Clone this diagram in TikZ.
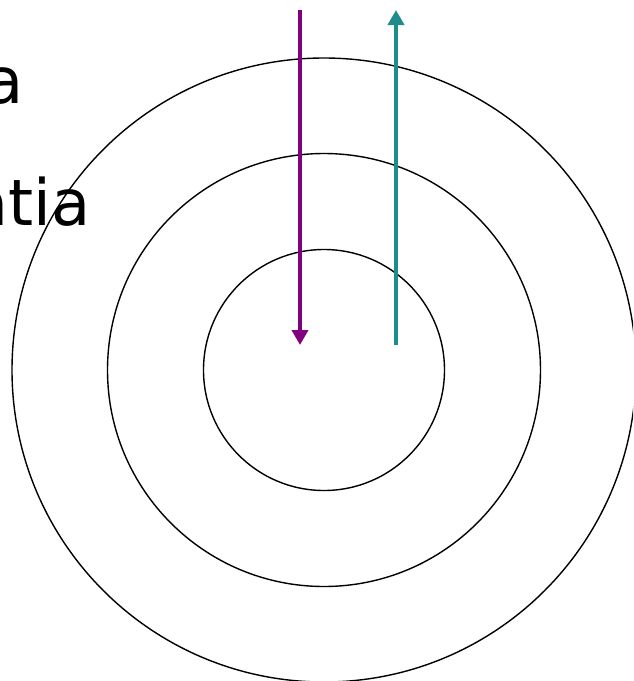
\documentclass[tikz,border=0pt]{standalone}
\usepackage{fontspec}
\setmainfont{DejaVu Sans}
\usepackage{tikz}
\usetikzlibrary{arrows.meta,positioning}
\definecolor{arrowpurple}{RGB}{128,0,128}
\definecolor{arrowteal}{RGB}{30,140,140}
\tikzset{ring/.style={black,line width=1.4pt},
         flow/.style={-{Triangle[length=15pt,width=16pt]},line width=4pt},
         word/.style={inner sep=0pt,font=\fontsize{64}{70}\selectfont}}
\begin{document}
\begin{tikzpicture}[x=1pt,y=-1pt]
\useasboundingbox (0,0) rectangle (633,681);
\clip (0,0) rectangle (633,681);
\coordinate (ctr) at (324,370);
% rings
\draw[ring] (ctr) circle (312);
\draw[ring] (ctr) circle (216.5);
\draw[ring] (ctr) circle (120.5);
% text, cut at the left edge
\node[word,anchor=base east] (lineone) at (24,103) {a};
\node[word,anchor=base east] (linetwo) at (91,225) {atia};
% arrows
\coordinate (intop) at (300,10);
\coordinate (inend) at (300,345);
\coordinate (outbot) at (396,345);
\coordinate (outend) at (396,10);
\draw[flow,arrowpurple] (intop) -- (inend);
\draw[flow,arrowteal] (outbot) -- (outend);
\end{tikzpicture}
\end{document}
